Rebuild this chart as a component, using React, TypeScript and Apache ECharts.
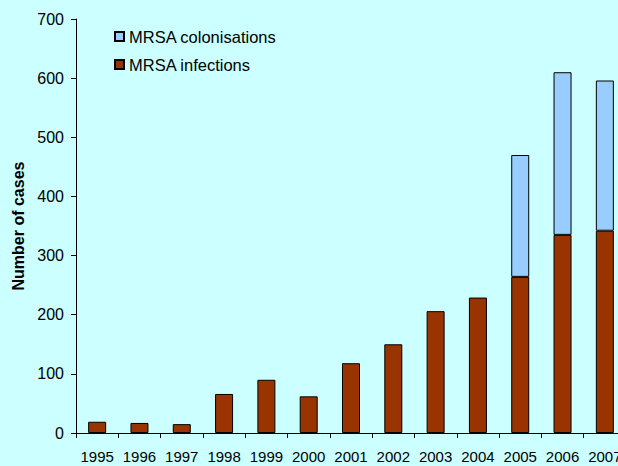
import React, { useEffect, useRef } from "react";
import * as echarts from "echarts";

const years = ["1995","1996","1997","1998","1999","2000","2001","2002","2003","2004","2005","2006","2007"];
const infections = [19, 17, 15, 66, 90, 62, 118, 150, 206, 229, 264, 335, 342];
const colonisations = [null, null, null, null, null, null, null, null, null, null, 206, 275, 254];
const yTicks = { min: 0, max: 700, interval: 100 };

export default function App() {
  const ref = useRef<HTMLDivElement>(null);
  useEffect(() => {
    if (!ref.current) return;
    const chart = echarts.init(ref.current, null, { renderer: "svg" });
    const font = "'Liberation Sans', Arial, sans-serif";
    chart.setOption({
      animation: false,
      backgroundColor: "#ccffff",
      textStyle: { fontFamily: font, color: "#000" },
      grid: { left: 76, top: 19, bottom: 33, right: 0 },
      legend: {
        orient: "vertical",
        left: 109,
        top: 23,
        icon: "rect",
        itemWidth: 9,
        itemHeight: 9,
        itemGap: 11,
        data: ["MRSA colonisations", "MRSA infections"],
        textStyle: { fontFamily: font, fontSize: 16.5, color: "#000" },
      },
      xAxis: {
        type: "category",
        data: years,
        boundaryGap: true,
        axisLine: { lineStyle: { color: "#000", width: 1 } },
        axisTick: { show: true, alignWithLabel: false, length: 5, lineStyle: { color: "#000" } },
        axisLabel: { color: "#000", fontSize: 15, fontFamily: font, margin: 16, interval: 0 },
        splitLine: { show: false },
      },
      yAxis: {
        type: "value",
        min: yTicks.min,
        max: yTicks.max,
        interval: yTicks.interval,
        name: "Number of cases",
        nameLocation: "middle",
        nameGap: 50,
        nameTextStyle: { fontWeight: "bold", fontSize: 16, color: "#000", fontFamily: font },
        axisLine: { show: true, lineStyle: { color: "#000", width: 1 } },
        axisTick: { show: true, length: 5, lineStyle: { color: "#000" } },
        axisLabel: { color: "#000", fontSize: 16, fontFamily: font, margin: 12 },
        splitLine: { show: false },
      },
      series: [
        {
          name: "MRSA infections",
          type: "bar",
          stack: "total",
          data: infections,
          barWidth: 18,
          itemStyle: { color: "#993300", borderColor: "#000", borderWidth: 1 },
        },
        {
          name: "MRSA colonisations",
          type: "bar",
          stack: "total",
          data: colonisations,
          barWidth: 18,
          itemStyle: { color: "#99ccff", borderColor: "#000", borderWidth: 1 },
        },
      ],
    });
    return () => chart.dispose();
  }, []);
  return (
    <div style={{ position: "fixed", left: 0, top: 0, width: 618, height: 466, overflow: "hidden" }}>
      <div ref={ref} style={{ width: 626, height: 466 }} />
    </div>
  );
}
